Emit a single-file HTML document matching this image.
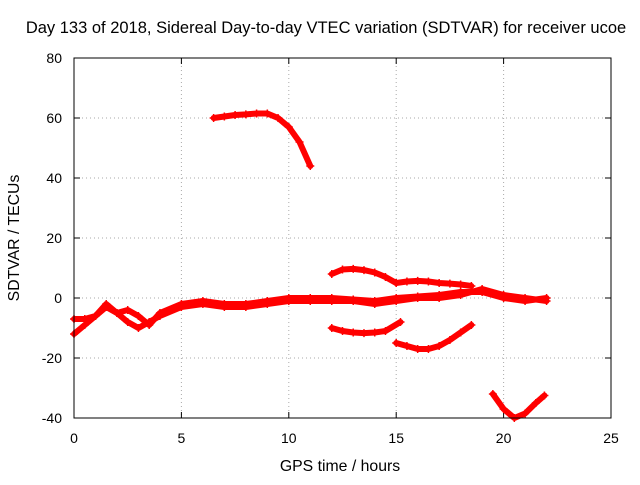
<!DOCTYPE html>
<html><head><meta charset="utf-8"><style>
body{margin:0;background:#fff}
text{font-family:"Liberation Sans",sans-serif;font-size:14px;fill:#000}
</style></head><body>
<svg id="chart" width="640" height="480" viewBox="0 0 640 480" xmlns="http://www.w3.org/2000/svg">
<text x="326" y="33" text-anchor="middle" style="font-size:16.5px">Day 133 of 2018, Sidereal Day-to-day VTEC variation (SDTVAR) for receiver ucoe</text>
<g id="grid"></g>
<g id="axes"></g>
<g id="series"></g>
<rect x="74" y="58" width="537" height="360" fill="none" stroke="#000" stroke-width="1"/>
<text x="340" y="471" text-anchor="middle" style="font-size:15.8px">GPS time / hours</text>
<text transform="translate(19,238) rotate(-90)" text-anchor="middle" style="font-size:15.8px">SDTVAR / TECUs</text>
</svg>
<script>
const xTicks=[0,5,10,15,20,25];
const yTicks=[-40,-20,0,20,40,60,80];
const s1x=[6.5,7,7.5,8,8.5,9,9.5,10,10.5,11];
const s1y=[60,60.5,61,61.2,61.5,61.5,60,57,52,44];
const s2x=[12,12.5,13,13.5,14,14.5,15];
const s2y=[8,9.5,9.7,9.3,8.5,7,5];
const s3x=[15,15.5,16,16.5,17,17.5,18,18.5];
const s3y=[5,5.5,5.7,5.5,5,4.8,4.5,4];
const s4x=[12,12.5,13,13.5,14,14.5,15.2];
const s4y=[-10,-11,-11.5,-11.7,-11.5,-11,-8];
const s5x=[15,15.5,16,16.5,17,17.5,18,18.5];
const s5y=[-15,-16,-17,-17,-16,-14,-11.5,-9];
const s6x=[19.5,20,20.5,21,21.5,21.9];
const s6y=[-32,-37,-40,-38.5,-35,-32.5];
const s7x=[0,0.5,1,1.5,2,2.5,3,3.5,4,5,6,7,8,9,10,11,12,13,14,15,16,17,18,19,20,21,22];
const s7y=[-12,-9,-6,-3,-5,-4,-6,-9,-5,-2,-1,-2,-2,-1,0,0,0,-0.5,-1,0,0.5,1,2,2,0,-1,0];
const s8x=[0,0.5,1,1.5,2,2.5,3,3.5,4,5,6,7,8,9,10,11,12,13,14,15,16,17,18,19,20,21,22];
const s8y=[-7,-7,-6,-2,-5,-8,-10,-8,-6,-3,-2,-3,-3,-2,-1,-1,-1,-1,-2,-1,0,0,1,3,1,0,-1];
const X=v=>74+v*21.48, Y=v=>298-v*3;
const NS="http://www.w3.org/2000/svg";
function mk(tag,attrs,parent){const e=document.createElementNS(NS,tag);for(const k in attrs)e.setAttribute(k,attrs[k]);parent.appendChild(e);return e;}
const grid=document.getElementById('grid'),axes=document.getElementById('axes'),ser=document.getElementById('series');
xTicks.forEach(t=>{
 if(t>0&&t<25){const g=mk('line',{x1:X(t),x2:X(t),y1:58,y2:418,stroke:'#aaa','stroke-dasharray':'1,3'},grid);
 
 }
 mk('line',{x1:X(t),x2:X(t),y1:418,y2:412,stroke:'#000'},axes);
 mk('line',{x1:X(t),x2:X(t),y1:58,y2:64,stroke:'#000'},axes);
 const l=mk('text',{x:X(t),y:443,'text-anchor':'middle'},axes);l.textContent=t;
 
 
});
yTicks.forEach(t=>{
 if(t>-40&&t<80){const g=mk('line',{x1:74,x2:611,y1:Y(t),y2:Y(t),stroke:'#aaa','stroke-dasharray':'1,3'},grid);
 
 }
 mk('line',{x1:74,x2:80,y1:Y(t),y2:Y(t),stroke:'#000'},axes);
 mk('line',{x1:611,x2:605,y1:Y(t),y2:Y(t),stroke:'#000'},axes);
 const l=mk('text',{x:62,y:Y(t)+5,'text-anchor':'end'},axes);l.textContent=t;
 
 
});
[[s1x,s1y],[s2x,s2y],[s3x,s3y],[s4x,s4y],[s5x,s5y],[s6x,s6y],[s7x,s7y],[s8x,s8y]].forEach((s,i)=>{
 const pts=s[0].map((x,j)=>X(x)+','+Y(s[1][j])).join(' ');
 const p=mk('polyline',{points:pts,fill:'none',stroke:'#f00','stroke-width':6,'stroke-linejoin':'round','stroke-linecap':'round'},ser);
 
 
 s[0].forEach((x,j)=>{
  const m=mk('path',{d:`M${X(x)-4},${Y(s[1][j])}h8M${X(x)},${Y(s[1][j])-4}v8`,stroke:'#f00','stroke-width':1.5},ser);
  
  
 });
});
</script>
</body></html>
